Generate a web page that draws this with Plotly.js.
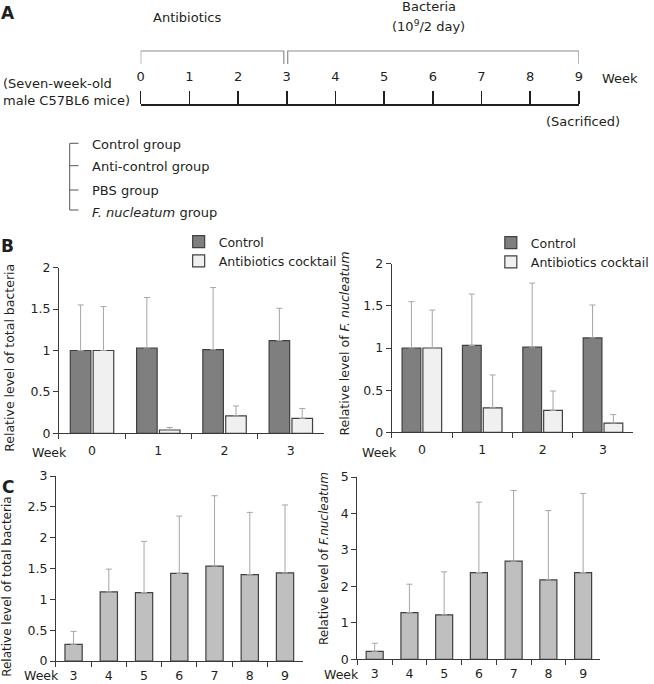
<!DOCTYPE html>
<html>
<head>
<meta charset="utf-8">
<script src="https://cdn.plot.ly/plotly-3.0.1.min.js"></script>
<style>html,body{margin:0;padding:0;background:#fff}#chart{width:654px;height:684px}</style>
</head>
<body>
<div id="chart"></div>
<script>
// ---------- DATA ----------
// Panel A: experimental timeline
const timelineWeeks = [0, 1, 2, 3, 4, 5, 6, 7, 8, 9];
const phaseStart = [0, 3];
const phaseEnd = [3, 9];
const groupLabels = ['Control group', 'Anti-control group', 'PBS group', '<i>F. nucleatum</i> group'];

// Panel B: antibiotics period
const weeksB = ['0', '1', '2', '3'];
const seriesB = ['Control', 'Antibiotics cocktail'];
const totalControl = [1.00, 1.03, 1.01, 1.12];
const totalControlSD = [0.55, 0.61, 0.75, 0.39];
const totalAntibiotic = [1.00, 0.04, 0.21, 0.18];
const totalAntibioticSD = [0.53, 0.03, 0.12, 0.12];
const fnControl = [1.00, 1.03, 1.01, 1.12];
const fnControlSD = [0.55, 0.61, 0.76, 0.39];
const fnAntibiotic = [1.00, 0.29, 0.26, 0.11];
const fnAntibioticSD = [0.45, 0.39, 0.23, 0.10];

// Panel C: bacteria period
const weeksC = ['3', '4', '5', '6', '7', '8', '9'];
const totalC = [0.27, 1.12, 1.11, 1.42, 1.54, 1.40, 1.43];
const totalCSD = [0.21, 0.37, 0.83, 0.93, 1.14, 1.01, 1.10];
const fnC = [0.22, 1.28, 1.22, 2.38, 2.69, 2.18, 2.38];
const fnCSD = [0.22, 0.78, 1.18, 1.93, 1.94, 1.90, 2.17];

// ---------- HELPERS ----------
const W = 654, H = 684;
const fx = p => p / W;
const fy = p => 1 - p / H;
const FONT = 'DejaVu Sans';
const TXT = '#231f20';
const AX = '#3a3a3a';
const zeros = n => new Array(n).fill(0);

function errY(sd) {
  return {type: 'data', symmetric: false, array: sd, arrayminus: zeros(sd.length),
          color: '#a6a6a6', thickness: 1, width: 3};
}

const ctrlFill = '#7f7f7f', abxFill = '#f0f0f0', cFill = '#bfbfbf';
const barLine = {color: '#404040', width: 1.2};

const traces = [
  {type: 'bar', x: weeksB, y: totalControl, name: seriesB[0], xaxis: 'x', yaxis: 'y',
   marker: {color: ctrlFill, line: barLine}, error_y: errY(totalControlSD), legend: 'legend'},
  {type: 'bar', x: weeksB, y: totalAntibiotic, name: seriesB[1], xaxis: 'x', yaxis: 'y',
   marker: {color: abxFill, line: barLine}, error_y: errY(totalAntibioticSD), legend: 'legend'},
  {type: 'bar', x: weeksB, y: fnControl, name: seriesB[0], xaxis: 'x2', yaxis: 'y2',
   marker: {color: ctrlFill, line: barLine}, error_y: errY(fnControlSD), legend: 'legend2'},
  {type: 'bar', x: weeksB, y: fnAntibiotic, name: seriesB[1], xaxis: 'x2', yaxis: 'y2',
   marker: {color: abxFill, line: barLine}, error_y: errY(fnAntibioticSD), legend: 'legend2'},
  {type: 'bar', x: weeksC, y: totalC, name: 'Total bacteria', xaxis: 'x3', yaxis: 'y3', width: 0.49,
   marker: {color: cFill, line: barLine}, error_y: errY(totalCSD), showlegend: false},
  {type: 'bar', x: weeksC, y: fnC, name: 'F. nucleatum', xaxis: 'x4', yaxis: 'y4', width: 0.49,
   marker: {color: cFill, line: barLine}, error_y: errY(fnCSD), showlegend: false},
  {type: 'scatter', mode: 'markers', x: timelineWeeks, y: zeros(timelineWeeks.length),
   xaxis: 'x5', yaxis: 'y5', marker: {opacity: 0}, hoverinfo: 'skip', showlegend: false}
];

const tickFont = {family: FONT, size: 12.5, color: TXT};
function xCat(d0, d1, anchor, standoff) {
  return {domain: [fx(d0), fx(d1)], anchor: anchor, type: 'category',
    showline: true, linecolor: AX, linewidth: 1, ticks: 'outside', tickson: 'boundaries',
    ticklen: 5, tickcolor: AX, tickwidth: 1, tickfont: tickFont, showgrid: false, zeroline: false,
    ticklabelstandoff: standoff, fixedrange: true};
}
function yLin(top, bottom, anchor, maxV, dt) {
  return {domain: [fy(bottom), fy(top)], anchor: anchor, range: [0, maxV], dtick: dt,
    showline: true, linecolor: AX, linewidth: 1, ticks: 'outside', ticklen: 5, tickcolor: AX,
    tickfont: tickFont, showgrid: false, zeroline: false, fixedrange: true};
}

const shapes = [];
// Phase brackets on the timeline axis (x in weeks)
phaseStart.forEach((s, i) => {
  const a = s + (i === 0 ? 0 : 0.02);
  const b = phaseEnd[i] - (i === 0 ? 0.06 : 0);
  shapes.push({type: 'path', xref: 'x5', yref: 'paper',
    path: `M ${a},${fy(64)} L ${a},${fy(51)} L ${b},${fy(51)} L ${b},${fy(64)}`,
    line: {color: '#8c8c8c', width: 1.2}});
});
// Group bracket
const groupY = [143.3, 165.7, 190, 210];
shapes.push({type: 'line', xref: 'paper', yref: 'paper', x0: fx(71), x1: fx(71), y0: fy(groupY[0]), y1: fy(groupY[3]),
  line: {color: '#555', width: 1}});
groupY.forEach(g => shapes.push({type: 'line', xref: 'paper', yref: 'paper', x0: fx(71), x1: fx(80), y0: fy(g), y1: fy(g),
  line: {color: '#555', width: 1}}));

const ann = [];
function txt(text, x, y, opts) {
  ann.push(Object.assign({text: text, x: fx(x), y: fy(y), xref: 'paper', yref: 'paper', showarrow: false,
    xanchor: 'center', yanchor: 'middle', font: {family: FONT, size: 13, color: TXT}}, opts || {}));
}
// Panel letters
txt('<b>A</b>', 8, 13, {font: {family: FONT, size: 17, color: TXT}});
txt('<b>B</b>', 8, 246, {font: {family: FONT, size: 17, color: TXT}});
txt('<b>C</b>', 8, 487, {font: {family: FONT, size: 17, color: TXT}});
// Panel A texts
txt('Antibiotics', 191, 18);
txt('Bacteria', 437, 7);
txt('(10<sup>9</sup>/2 day)', 437, 26);
txt('Week', 632, 78);
txt('(Sacrificed)', 594, 121);
txt('(Seven-week-old<br>male C57BL6 mice)', 1, 91.5, {xanchor: 'left', align: 'left'});
const groupTextY = [144, 166, 190.7, 213];
groupLabels.forEach((g, i) => txt(g, 91.7, groupTextY[i], {xanchor: 'left'}));
// Axis titles
const tf = {family: FONT, size: 12.5, color: TXT};
const tfc = {family: FONT, size: 12, color: TXT};
txt('Relative level of total bacteria', 9, 358, {textangle: -90, font: tf});
txt('Relative level of <i>F. nucleatum</i>', 350, 344, {textangle: -90, font: tf});
txt('Relative level of total bacteria', 7, 587, {textangle: -90, font: tfc});
txt('Relative level of <i>F.nucleatum</i>', 330, 558, {textangle: -90, font: tfc});
// "Week" axis labels
txt('Week', 50, 452.7, {font: tf});
txt('Week', 387, 452, {font: tf});
txt('Week', 42, 675, {font: tf});
txt('Week', 348, 674, {font: tf});

const legendBase = {bgcolor: 'rgba(0,0,0,0)', font: {family: FONT, size: 12.5, color: TXT},
  xanchor: 'left', yanchor: 'top', itemclick: false, itemdoubleclick: false, tracegroupgap: 0};

const layout = {
  width: W, height: H, margin: {l: 0, r: 0, t: 0, b: 0},
  paper_bgcolor: '#fff', plot_bgcolor: 'rgba(0,0,0,0)',
  font: {family: FONT, color: TXT},
  barmode: 'group', bargap: 0.31, bargroupgap: 0.1,
  showlegend: true,
  legend: Object.assign({x: fx(182), y: fy(227)}, legendBase),
  legend2: Object.assign({x: fx(500), y: fy(228)}, legendBase),
  xaxis: xCat(60, 330, 'y', 6),
  yaxis: yLin(267.7, 433.3, 'x', 2, 0.5),
  xaxis2: xCat(399, 645, 'y2', 6),
  yaxis2: yLin(263.7, 432.3, 'x2', 2, 0.5),
  xaxis3: xCat(57, 308.3, 'y3', 3),
  yaxis3: yLin(476, 661, 'x3', 3, 0.5),
  xaxis4: xCat(364, 611.7, 'y4', 3),
  yaxis4: yLin(477, 659.3, 'x4', 5, 1),
  xaxis5: {domain: [fx(143.3), fx(589.7)], anchor: 'y5', side: 'top', range: [0, 9],
    tickvals: timelineWeeks, ticks: 'outside', ticklen: 13, tickwidth: 1.6, tickcolor: TXT,
    showline: true, linewidth: 2, linecolor: TXT, showgrid: false, zeroline: false,
    tickfont: {family: FONT, size: 13, color: TXT}, ticklabelstandoff: 5, fixedrange: true},
  yaxis5: {domain: [fy(150), fy(106)], anchor: 'x5', visible: false, range: [0, 1], fixedrange: true},
  shapes: shapes,
  annotations: ann
};

Plotly.newPlot('chart', traces, layout, {displayModeBar: false, staticPlot: true});
</script>
</body>
</html>
